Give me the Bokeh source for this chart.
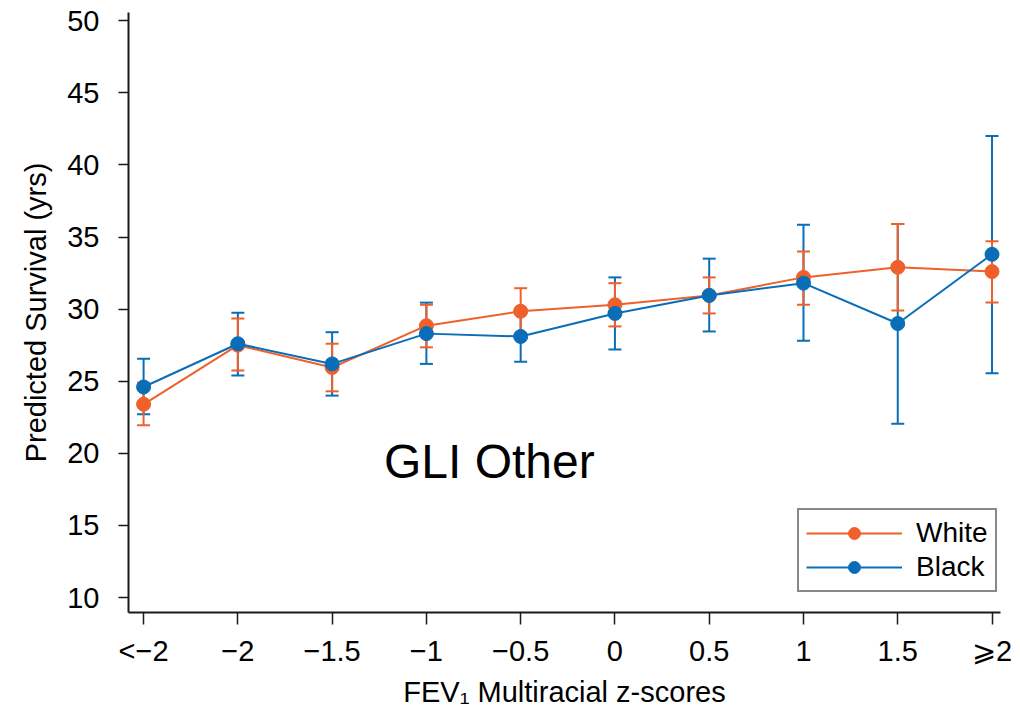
from bokeh.plotting import figure
from bokeh.models import (ColumnDataSource, Range1d, FixedTicker, Label, Legend,
                          LegendItem, Whisker, TeeHead)
from bokeh.embed import file_html
from bokeh.resources import INLINE

categories = ["<\u22122", "\u22122", "\u22121.5", "\u22121", "\u22120.5", "0", "0.5", "1", "1.5", "\u2a7e2"]
white_y = [23.4, 27.5, 25.95, 28.85, 29.85, 30.3, 30.95, 32.2, 32.9, 32.6]
white_lo = [21.95, 25.75, 24.3, 27.35, 28.3, 28.8, 29.7, 30.3, 29.9, 30.45]
white_hi = [24.9, 29.35, 27.6, 30.3, 31.45, 31.8, 32.2, 34.0, 35.9, 34.7]
black_y = [24.6, 27.6, 26.2, 28.3, 28.1, 29.7, 30.95, 31.8, 29.0, 33.8]
black_lo = [22.7, 25.4, 24.0, 26.2, 26.35, 27.2, 28.45, 27.8, 22.05, 25.55]
black_hi = [26.55, 29.75, 28.4, 30.45, 29.85, 32.2, 33.5, 35.85, 35.9, 42.0]
y_ticks = [10, 15, 20, 25, 30, 35, 40, 45, 50]

ORANGE = "#F0602A"
BLUE = "#0A6DB8"
FONT = "Liberation Sans"

xs = list(range(len(categories)))
wsrc = ColumnDataSource(dict(x=xs, y=white_y, lo=white_lo, hi=white_hi))
bsrc = ColumnDataSource(dict(x=xs, y=black_y, lo=black_lo, hi=black_hi))

p = figure(frame_width=872, frame_height=600, output_backend="svg", toolbar_location=None,
           x_range=Range1d(-0.16, 9.09), y_range=Range1d(8.96, 50.57))
p.min_border_left = 128
p.min_border_right = 20
p.min_border_top = 12
p.min_border_bottom = 96
p.outline_line_color = None
p.xgrid.visible = False
p.ygrid.visible = False
p.background_fill_color = "white"

for src, col in ((bsrc, BLUE), (wsrc, ORANGE)):
    w = Whisker(base="x", lower="lo", upper="hi", source=src, line_color=col, line_width=2,
                upper_head=TeeHead(size=13, line_color=col, line_width=2),
                lower_head=TeeHead(size=13, line_color=col, line_width=2))
    p.add_layout(w)

wl = p.line("x", "y", source=wsrc, line_color=ORANGE, line_width=2)
ws = p.scatter("x", "y", source=wsrc, size=14, fill_color=ORANGE, line_color=ORANGE)
bl = p.line("x", "y", source=bsrc, line_color=BLUE, line_width=2)
bs = p.scatter("x", "y", source=bsrc, size=14, fill_color=BLUE, line_color=BLUE)

for ax in (p.xaxis[0], p.yaxis[0]):
    ax.axis_line_color = "#1a1a1a"
    ax.axis_line_width = 2
    ax.major_tick_line_color = "#1a1a1a"
    ax.major_tick_line_width = 1.5
    ax.major_tick_in = 0
    ax.minor_tick_line_color = None
    ax.major_label_text_font = FONT
    ax.major_label_text_font_size = "29px"
    ax.major_label_text_color = "black"
    ax.axis_label_text_font = FONT
    ax.axis_label_text_font_size = "29px"
    ax.axis_label_text_font_style = "normal"
    ax.axis_label_text_color = "black"

p.xaxis.ticker = FixedTicker(ticks=xs)
p.xaxis.major_label_overrides = {i: c for i, c in zip(xs, categories)}
p.xaxis.major_tick_out = 12
p.xaxis.major_label_standoff = 10
p.xaxis.axis_label = "FEV\u2081 Multiracial z-scores"
p.xaxis.axis_label_standoff = 6

p.yaxis.ticker = FixedTicker(ticks=y_ticks)
p.yaxis.major_tick_out = 10
p.yaxis.major_label_standoff = 19
p.yaxis.axis_label = "Predicted Survival (yrs)"
p.yaxis.axis_label_standoff = 12

p.add_layout(Label(x=2.55, y=19.4, text="GLI Other", text_baseline="middle",
                   text_font=FONT, text_font_size="48px", text_color="black"))

legend = Legend(items=[LegendItem(label="White", renderers=[wl, ws]),
                       LegendItem(label="Black", renderers=[bl, bs])],
                location=(669, 20))
legend.border_line_color = "#111111"
legend.border_line_width = 2
legend.background_fill_color = "white"
legend.background_fill_alpha = 1
legend.glyph_width = 96
legend.glyph_height = 30
legend.label_height = 30
legend.label_text_font = FONT
legend.label_text_font_size = "28px"
legend.label_text_color = "black"
legend.spacing = 2
legend.padding = 7
legend.margin = 0
legend.label_standoff = 14
p.add_layout(legend)

open("out.html", "w").write(file_html(p, INLINE))
